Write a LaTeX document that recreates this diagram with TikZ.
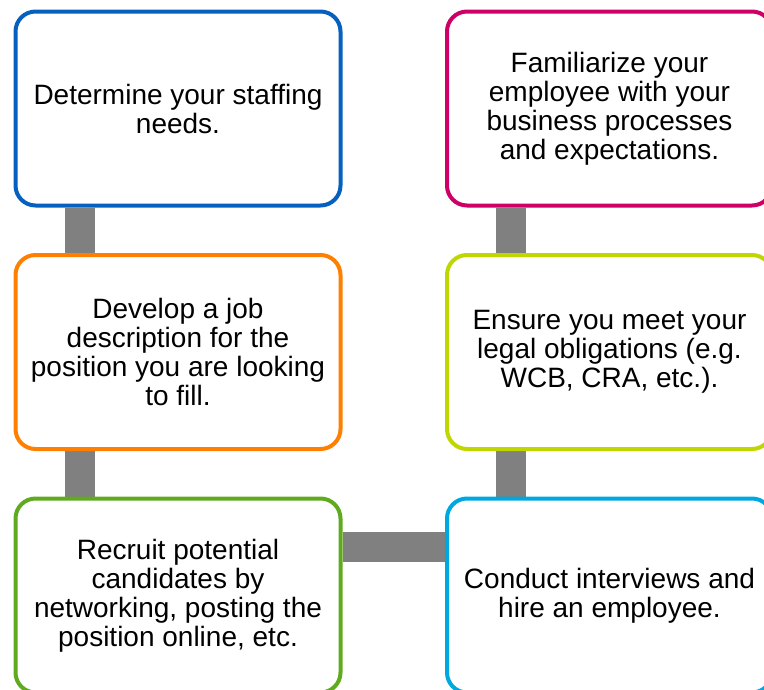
\documentclass[tikz,border=0pt]{standalone}
\usepackage{fontspec}
\setmainfont{Liberation Sans}
\usetikzlibrary{backgrounds}
\definecolor{cblue}{RGB}{5,96,192}
\definecolor{cmag}{RGB}{204,0,102}
\definecolor{corange}{RGB}{255,128,0}
\definecolor{clime}{RGB}{192,214,0}
\definecolor{cgreen}{RGB}{96,170,32}
\definecolor{ccyan}{RGB}{0,168,224}
\definecolor{cgray}{RGB}{128,128,128}
\tikzset{
  stepbox/.style={rounded corners=20pt, line width=4pt, fill=white,
    minimum width=325pt, minimum height=194pt, inner sep=0pt,
    align=center, font=\fontsize{28}{29}\selectfont},
  conn/.style={line width=30pt, draw=cgray}
}
\begin{document}
\begin{tikzpicture}[x=1pt,y=-1pt]
\clip (0,0) rectangle (764,689);
\useasboundingbox (0,0) rectangle (764,689);
\node[stepbox, draw=cblue] (b1) at (178,108.5) {Determine your staffing\\needs.};
\node[stepbox, draw=corange] (b2) at (178,352) {Develop a job\\description for the\\position you are looking\\to fill.};
\node[stepbox, draw=cgreen] (b3) at (178,595.5) {Recruit potential\\candidates by\\networking, posting the\\position online, etc.};
\node[stepbox, draw=cmag] (b4) at (609.5,108.5) {Familiarize your\\employee with your\\business processes\\and expectations.};
\node[stepbox, draw=clime] (b5) at (609.5,352) {Ensure you meet your\\legal obligations (e.g.\\WCB, CRA, etc.).};
\node[stepbox, draw=ccyan] (b6) at (609.5,595.5) {Conduct interviews and\\hire an employee.};
\begin{scope}[on background layer]
\draw[conn] ([xshift=66pt]b1.south west) -- ([xshift=66pt]b2.north west);
\draw[conn] ([xshift=66pt]b2.south west) -- ([xshift=66pt]b3.north west);
\draw[conn] ([yshift=48.5pt]b3.east) -- ([yshift=48.5pt]b6.west);
\draw[conn] ([xshift=66pt]b6.north west) -- ([xshift=66pt]b5.south west);
\draw[conn] ([xshift=66pt]b5.north west) -- ([xshift=66pt]b4.south west);
\end{scope}
\end{tikzpicture}
\end{document}
